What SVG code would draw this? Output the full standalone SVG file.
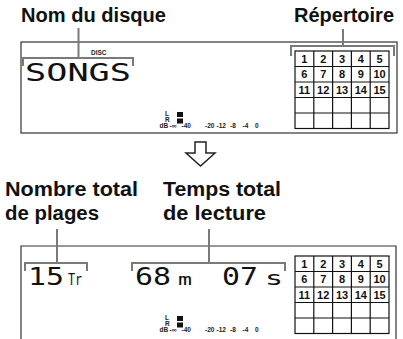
<svg xmlns="http://www.w3.org/2000/svg" width="403" height="339" viewBox="0 0 403 339">
<style>
.h{font-family:"Liberation Sans",Arial,sans-serif;font-weight:bold;font-size:20px;fill:#111}
.frame{fill:none;stroke:#333;stroke-width:1.2}
.br{fill:none;stroke:#7a7a7a;stroke-width:2}
.con{fill:none;stroke:#7a7a7a;stroke-width:2}
.seg{font-family:"DejaVu Sans Mono","Liberation Mono",monospace;fill:#111}
.g{fill:none;stroke:#111;stroke-width:1.2}
.n{font-family:"Liberation Sans",Arial,sans-serif;font-weight:bold;font-size:11px;fill:#111;text-anchor:middle}
.m{font-family:"Liberation Sans",Arial,sans-serif;font-weight:bold;font-size:6.5px;fill:#222}
.sq{fill:#111}
</style>
<defs>
<g id="grid">
<rect class="g" x="295" y="0" width="94" height="77.5"/>
<path class="g" d="M313.8 0V77.5M332.6 0V77.5M351.4 0V77.5M370.2 0V77.5M295 15.5H389M295 31H389M295 46.5H389M295 62H389"/>
<text class="n" x="304.4" y="11.8">1</text><text class="n" x="323.2" y="11.8">2</text><text class="n" x="342" y="11.8">3</text><text class="n" x="360.8" y="11.8">4</text><text class="n" x="379.6" y="11.8">5</text>
<text class="n" x="304.4" y="27.3">6</text><text class="n" x="323.2" y="27.3">7</text><text class="n" x="342" y="27.3">8</text><text class="n" x="360.8" y="27.3">9</text><text class="n" x="379.6" y="27.3">10</text>
<text class="n" x="304.4" y="42.8">11</text><text class="n" x="323.2" y="42.8">12</text><text class="n" x="342" y="42.8">13</text><text class="n" x="360.8" y="42.8">14</text><text class="n" x="379.6" y="42.8">15</text>
</g>
<g id="meter">
<text class="m" x="165" y="4">L</text>
<text class="m" x="165" y="9.5">R</text>
<text class="m" x="159.5" y="15.5">dB</text>
<rect class="sq" x="177" y="0" width="6" height="5"/>
<rect class="sq" x="177" y="6.5" width="6" height="5"/>
<text class="m" x="169.5" y="15.5">-∞</text>
<text class="m" x="181.5" y="15.5">-40</text>
<text class="m" x="205" y="15.5">-20</text>
<text class="m" x="216.5" y="15.5">-12</text>
<text class="m" x="230" y="15.5">-8</text>
<text class="m" x="242.5" y="15.5">-4</text>
<text class="m" x="255" y="15.5">0</text>
</g>
</defs>

<g id="label-nom">
<text class="h" x="21" y="22" textLength="145" lengthAdjust="spacingAndGlyphs">Nom du disque</text>
</g>
<g id="label-repertoire">
<text class="h" x="294" y="22" textLength="100" lengthAdjust="spacingAndGlyphs">Répertoire</text>
</g>

<g id="panel-top">
<rect class="frame" x="21" y="42" width="376" height="91"/>
<text class="m" x="91" y="54.5">DISC</text>
<text class="seg" x="25" y="81" font-size="24.5" textLength="106" lengthAdjust="spacingAndGlyphs">SONGS</text>
<use href="#meter" y="112"/>
<use href="#grid" y="51"/>
</g>

<g id="arrow">
<polygon points="195,142 206,142 206,153 215,153 200.5,166 186,153 195,153" fill="#fff" stroke="#222" stroke-width="1.5" stroke-linejoin="miter"/>
</g>

<g id="label-plages">
<text class="h" x="5" y="196" textLength="133" lengthAdjust="spacingAndGlyphs">Nombre total</text>
<text class="h" x="5" y="220" textLength="94" lengthAdjust="spacingAndGlyphs">de plages</text>
</g>
<g id="label-lecture">
<text class="h" x="163" y="196" textLength="118" lengthAdjust="spacingAndGlyphs">Temps total</text>
<text class="h" x="163" y="220" textLength="103" lengthAdjust="spacingAndGlyphs">de lecture</text>
</g>

<g id="panel-bottom">
<path class="frame" d="M21 339V246H396V339"/>
<text class="seg" x="28" y="285" font-size="24" textLength="36" lengthAdjust="spacingAndGlyphs">15</text>
<text class="seg" x="68" y="285" font-size="16" textLength="14" lengthAdjust="spacingAndGlyphs">Tr</text>
<text class="seg" x="135" y="285" font-size="24" textLength="36" lengthAdjust="spacingAndGlyphs">68</text>
<text class="seg" x="178" y="285" font-size="16" textLength="14" lengthAdjust="spacingAndGlyphs">m</text>
<text class="seg" x="222" y="285" font-size="24" textLength="36" lengthAdjust="spacingAndGlyphs">07</text>
<text class="seg" x="265" y="285" font-size="20" textLength="18" lengthAdjust="spacingAndGlyphs">s</text>
<use href="#meter" y="316"/>
<use href="#grid" y="256"/>
</g>

<g id="connectors">
<line class="con" x1="78.5" y1="28" x2="78.5" y2="58"/>
<path class="br" d="M23 66V58H133V66"/>
<line class="con" x1="343" y1="29" x2="343" y2="46"/>
<path class="br" d="M291 56V46H394V56"/>
<line class="con" x1="57" y1="229" x2="57" y2="263"/>
<path class="br" d="M25 271V263H87V271"/>
<line class="con" x1="209" y1="229" x2="209" y2="263"/>
<path class="br" d="M132 271V263H285V271"/>
</g>
</svg>
